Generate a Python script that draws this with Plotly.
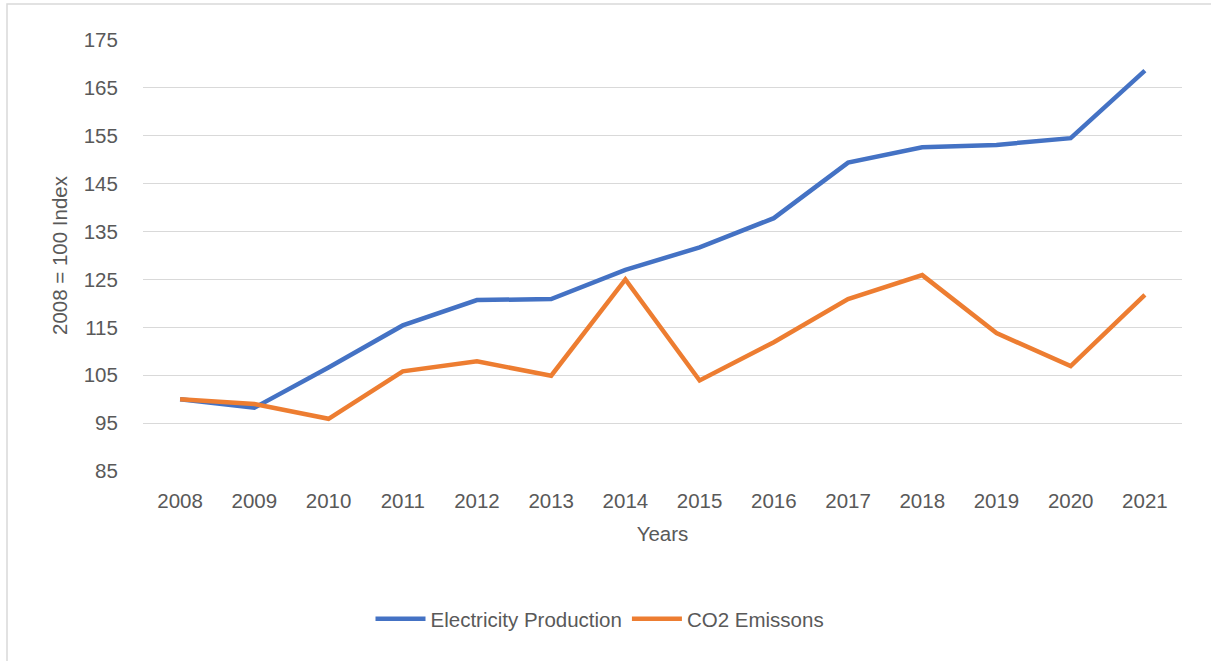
import plotly.graph_objects as go

years = [str(y) for y in range(2008, 2022)]
electricity = [100, 98.2, 106.6, 115.4, 120.7, 120.9, 127.0, 131.7, 137.8, 149.4, 152.6, 153.1, 154.5, 168.6]
co2 = [100, 99.0, 95.9, 105.8, 107.9, 104.9, 125.0, 103.9, 111.9, 120.9, 125.9, 113.8, 106.9, 121.8]
y_ticks = [85, 95, 105, 115, 125, 135, 145, 155, 165, 175]

FONT = "Liberation Sans"
TXT = "#595959"
FS = 20.5

fig = go.Figure()
fig.add_trace(go.Scatter(x=years, y=electricity, mode="lines", name="Electricity Production",
                         line=dict(color="#4472C4", width=4.5)))
fig.add_trace(go.Scatter(x=years, y=co2, mode="lines", name="CO2 Emissons",
                         line=dict(color="#ED7D31", width=4.5)))

W, H = 1211, 661
L, R, T, B = 143, 29, 40, 190
pw, ph = W - L - R, H - T - B

def px_x(x):
    return (x - L) / pw

def px_y(y):
    return (H - B - y) / ph

fig.add_shape(type="rect", xref="paper", yref="paper",
              x0=px_x(7), x1=px_x(1230), y0=px_y(680), y1=px_y(4),
              line=dict(color="#D9D9D9", width=1.5), fillcolor="rgba(0,0,0,0)", layer="below")

fig.update_layout(
    width=W, height=H,
    margin=dict(l=L, r=R, t=T, b=B),
    paper_bgcolor="white", plot_bgcolor="white",
    font=dict(family=FONT, size=FS, color=TXT),
    showlegend=True,
    legend=dict(orientation="h", x=px_x(600), xanchor="center", y=px_y(619), yanchor="middle",
                font=dict(size=FS, color=TXT), itemwidth=50, traceorder="normal"),
    xaxis=dict(type="category", showgrid=False, showline=False, zeroline=False,
               ticks="outside", ticklen=11, tickcolor="rgba(0,0,0,0)",
               tickfont=dict(size=FS, color=TXT),
               title=dict(text="Years", font=dict(size=FS, color=TXT), standoff=16),
               range=[-0.5, 13.5]),
    yaxis=dict(range=[85, 175], tickvals=y_ticks, showgrid=True, gridcolor="#D9D9D9", gridwidth=1.3,
               zeroline=False, showline=False,
               ticks="outside", ticklen=20, tickcolor="rgba(0,0,0,0)",
               tickfont=dict(size=FS, color=TXT),
               title=dict(text="2008 = 100 Index", font=dict(size=FS, color=TXT), standoff=10)),
)

fig.write_html("out.html", config={"displayModeBar": False},
               post_script="document.body.style.margin='0';document.body.style.padding='0';")
